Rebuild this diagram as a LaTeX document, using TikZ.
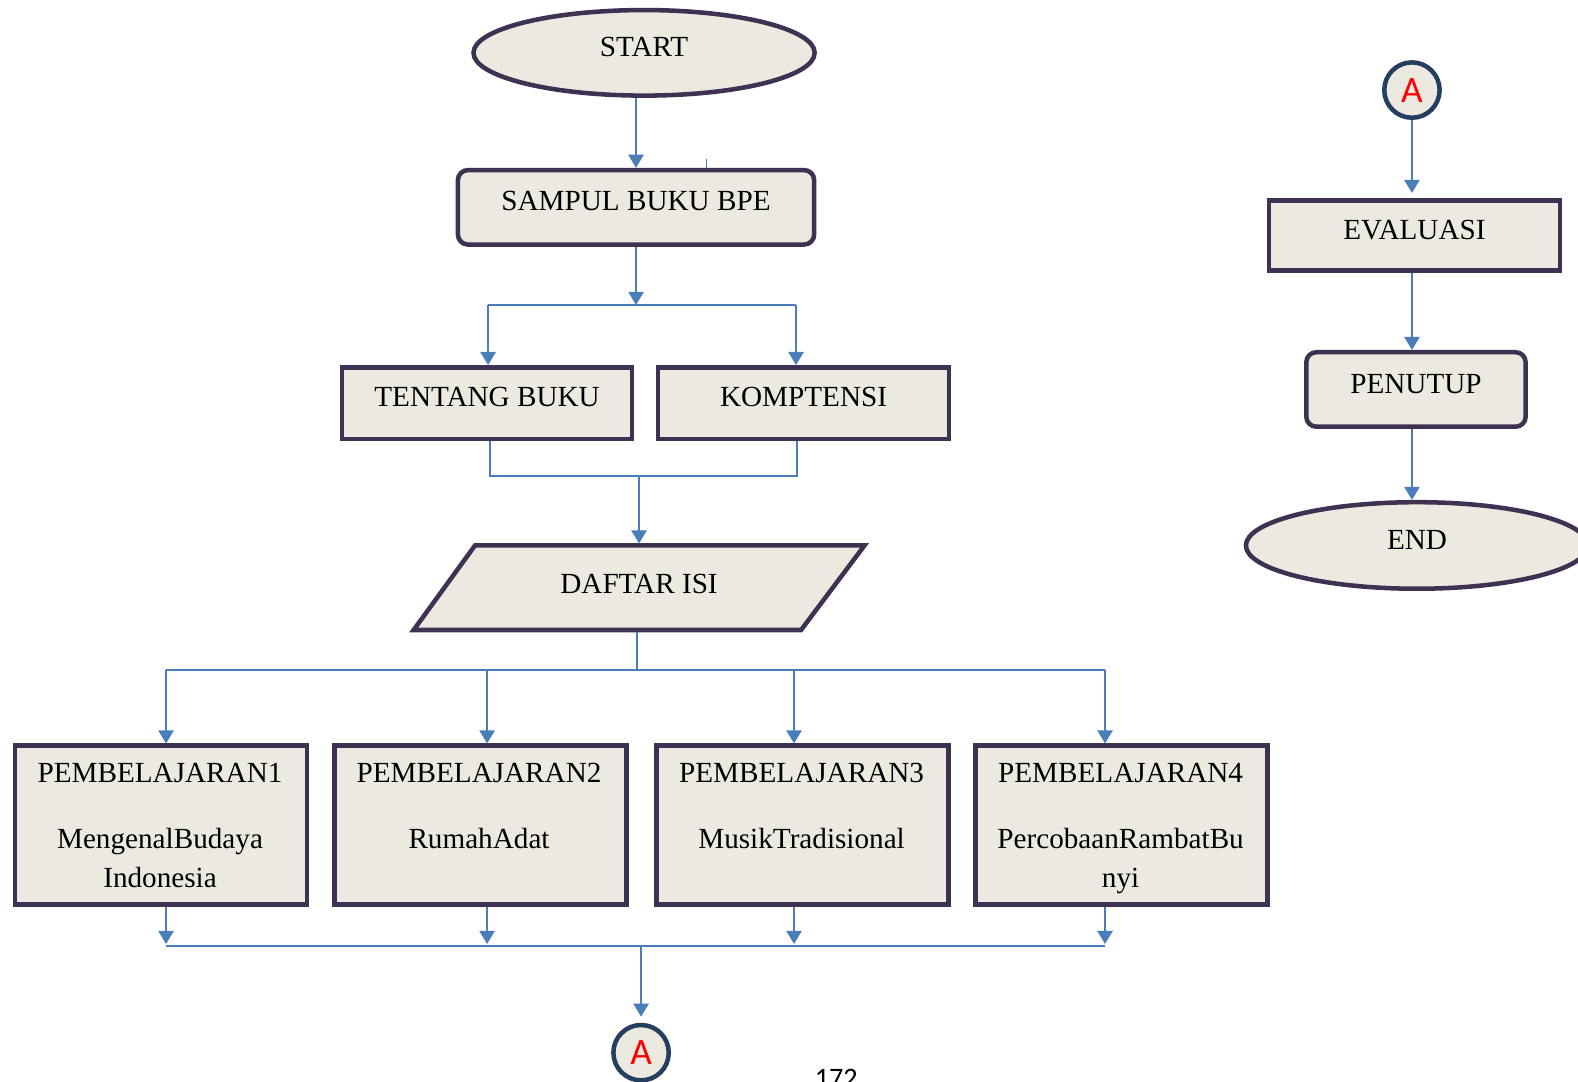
\documentclass[tikz,border=0pt]{standalone}
\usepackage{fontspec}
\setmainfont{Liberation Serif}
\newfontfamily\calfont{Carlito}
\usetikzlibrary{arrows.meta,shapes.geometric,calc}
\definecolor{boxfill}{RGB}{236,234,224}
\definecolor{boxline}{RGB}{63,49,81}
\definecolor{flow}{RGB}{74,126,187}
\definecolor{ringline}{RGB}{36,63,96}

\begin{document}
\begin{tikzpicture}[x=1pt,y=-1pt,
  every node/.style={inner sep=0pt, font=\fontsize{29}{39}\selectfont},
  caption/.style={text height=14pt, text depth=6.8pt},
  shapebox/.style={caption, draw=boxline, line width=4.5pt, fill=boxfill},
  plainbox/.style={shapebox, rectangle},
  roundbox/.style={shapebox, rectangle, rounded corners=10pt},
  oval/.style={shapebox, ellipse, minimum width=339pt, minimum height=85pt},
  connector/.style={draw=flow, line width=1.5pt},
  arrow/.style={draw=flow, line width=2.3pt, -{Triangle[width=15pt,length=13pt]}},
  ring/.style={circle, draw=ringline, line width=4.5pt, fill=boxfill, minimum size=55pt,
    text=red, font=\calfont\fontsize{37}{37}\selectfont},
  lesson/.style={plainbox, minimum width=290pt, minimum height=158pt},
  lessontext/.style={align=center, anchor=north}
]
\useasboundingbox (0,0) rectangle (1568,1075);

% ---------- main column ----------
\node[oval] (start) at (640,52.5) {START};
\node[roundbox, minimum width=354pt, minimum height=74pt] (cover) at (632,206) {SAMPUL BUKU BPE};
\node[plainbox, minimum width=288pt, minimum height=71pt] (about) at (484,400.5) {TENTANG BUKU};
\node[plainbox, minimum width=289pt, minimum height=71pt] (skills) at (798.5,400.5) {KOMPTENSI};

% table of contents (parallelogram)
\path[draw=boxline, line width=4.5pt, fill=boxfill]
  (411,626) -- (796,626) -- (859,542) -- (472,542) -- cycle;
\node[caption] (contents) at (635,586) {DAFTAR ISI};

% lessons
\node[lesson] (l1) at (160,820) {};
\node[lesson] (l2) at (477.5,820) {};
\node[lesson] (l3) at (797.5,820) {};
\node[lesson] (l4) at (1114.5,820) {};
\node[lessontext] (l1text) at (159,758.5) {PEMBELAJARAN1\\[26pt]MengenalBudaya\\Indonesia};
\node[lessontext] (l2text) at (476,758.5) {PEMBELAJARAN2\\[26pt]RumahAdat};
\node[lessontext] (l3text) at (796.5,758.5) {PEMBELAJARAN3\\[26pt]MusikTradisional};
\node[lessontext] (l4text) at (1113.5,758.5) {PEMBELAJARAN4\\[26pt]PercobaanRambatBu\\nyi};

\node[ring] (toA) at (637,1046) {A};

% ---------- right column ----------
\node[ring] (fromA) at (1403,89.5) {A};
\node[plainbox, minimum width=289pt, minimum height=70pt] (eval) at (1405.5,234) {EVALUASI};
\node[roundbox, minimum width=218pt, minimum height=74pt] (close) at (1407,387) {PENUTUP};
\node[oval, minimum width=340pt, minimum height=86pt] (finish) at (1408,542) {END};

% page number
\node[font=\calfont\fontsize{28}{28}\selectfont, anchor=base] (page) at (831,1081) {172};

% ---------- junction points ----------
\coordinate (tick) at (702,158);
\coordinate (split) at (632,303);
\coordinate (splitL) at (485,303);
\coordinate (splitR) at (791,303);
\coordinate (joinL) at (487,473);
\coordinate (joinR) at (792,473);
\coordinate (join) at (635,473);
\coordinate (contentsTop) at (635,540);
\coordinate (contentsBottom) at (633,628);
\coordinate (fan) at (633,666);
\coordinate (fan1) at (165,666);
\coordinate (fan2) at (484,666);
\coordinate (fan3) at (789,666);
\coordinate (fan4) at (1098,666);
\coordinate (gather1) at (165,940);
\coordinate (gather2) at (484,940);
\coordinate (gather3) at (789,940);
\coordinate (gather4) at (1098,940);
\coordinate (gather) at (637,940);

% ---------- connectors ----------
\draw[arrow] (start.south -| cover.north) -- (cover.north);
\draw[connector] (tick) -- (tick |- cover.north);
\draw[arrow] (cover.south) -- (split);
\draw[connector] (splitL) -- (splitR);
\draw[arrow] (splitL) -- (splitL |- about.north);
\draw[arrow] (splitR) -- (splitR |- skills.north);
\draw[connector] (about.south -| joinL) -- (joinL) -- (joinR) -- (skills.south -| joinR);
\draw[arrow] (join) -- (contentsTop);
\draw[connector] (contentsBottom) -- (fan);
\draw[connector] (fan1) -- (fan4);
\draw[arrow] (fan1) -- (fan1 |- l1.north);
\draw[arrow] (fan2) -- (fan2 |- l2.north);
\draw[arrow] (fan3) -- (fan3 |- l3.north);
\draw[arrow] (fan4) -- (fan4 |- l4.north);
\draw[arrow, shorten >=2pt] (l1.south -| gather1) -- (gather1);
\draw[arrow, shorten >=2pt] (l2.south -| gather2) -- (gather2);
\draw[arrow, shorten >=2pt] (l3.south -| gather3) -- (gather3);
\draw[arrow, shorten >=2pt] (l4.south -| gather4) -- (gather4);
\draw[connector] (gather1) -- (gather4);
\draw[arrow, shorten >=6pt] (gather) -- (toA.north);

\draw[arrow, shorten >=5pt] (fromA.south) -- (fromA.south |- eval.north);
\draw[arrow] (eval.south -| fromA) -- (close.north -| fromA);
\draw[arrow] (close.south -| fromA) -- (finish.north -| fromA);
\end{tikzpicture}
\end{document}
